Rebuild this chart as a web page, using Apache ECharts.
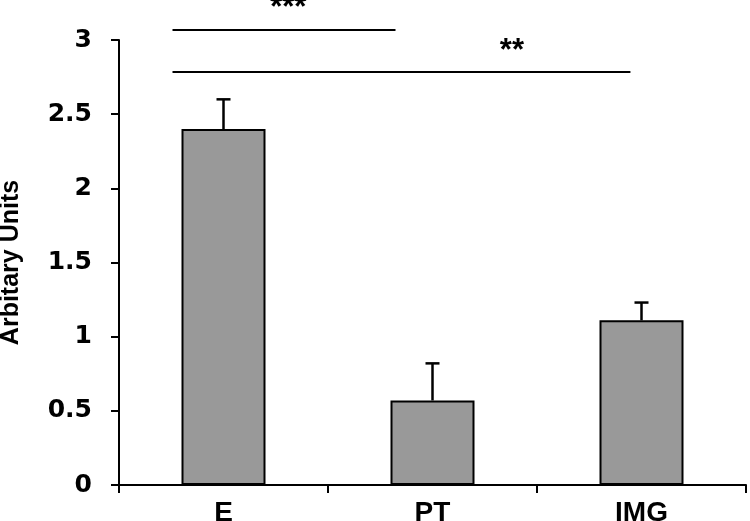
<!DOCTYPE html>
<html>
<head>
<meta charset="utf-8">
<script src="https://cdn.jsdelivr.net/npm/echarts@6/dist/echarts.min.js"></script>
<style>html,body{margin:0;padding:0;background:#fff;}#chart{width:750px;height:521px;}</style>
</head>
<body>
<div id="chart"></div>
<script>
// ---- data ----
const categories = ['E', 'PT', 'IMG'];
const values = [2.4, 0.57, 1.11];
const errors = [0.2, 0.25, 0.12];
const yAxisName = 'Arbitary Units';
// significance brackets (category-space start/end, value level, label, label anchor)
const sigLabels = ['***', '**'];
const sigStart = [-0.244, -0.244];
const sigEnd = [0.823, 1.947];
const sigLevel = [3.067, 2.784];
const sigLabelPos = [0.31, 1.38];
const sigLabelLevel = [3.215, 2.92];

const chart = echarts.init(document.getElementById('chart'));
const errData = categories.map((c, i) => [i, values[i], errors[i]]);
const sigData = sigLabels.map((l, i) => [0, sigLevel[i], i]);

chart.setOption({
  animation: false,
  grid: { left: 119, right: 4, top: 40, bottom: 36, outerBoundsMode: 'none', containLabel: false },
  xAxis: {
    type: 'category',
    data: categories,
    axisLine: { lineStyle: { color: '#000', width: 2 } },
    axisTick: { show: true, length: 8, lineStyle: { color: '#000', width: 2 } },
    axisLabel: { color: '#000', fontFamily: 'Liberation Sans', fontWeight: 'bold', fontSize: 28, margin: 14, lineHeight: 28 }
  },
  yAxis: {
    type: 'value', min: 0, max: 3, interval: 0.5,
    name: yAxisName, nameLocation: 'middle', nameGap: 95, nameRotate: 90,
    nameTextStyle: { color: '#000', fontFamily: 'Liberation Sans', fontWeight: 'bold', fontSize: 25 },
    axisLine: { show: true, lineStyle: { color: '#000', width: 2 } },
    axisTick: { show: true, length: 8, lineStyle: { color: '#000', width: 2 } },
    splitLine: { show: false },
    axisLabel: { color: '#000', fontFamily: 'DejaVu Sans', fontWeight: 'bold', fontSize: 25, margin: 27 }
  },
  series: [
    {
      type: 'bar', data: values, barWidth: 84, z: 2,
      itemStyle: { color: '#999999', borderColor: '#000', borderWidth: 2 }
    },
    {
      type: 'custom', data: errData, z: 3,
      renderItem: function (params, api) {
        const x = api.value(0), v = api.value(1), e = api.value(2);
        const top = api.coord([x, v + e]);
        const base = api.coord([x, v]);
        return { type: 'group', children: [
          { type: 'line', shape: { x1: top[0], y1: top[1], x2: base[0], y2: base[1] }, style: { stroke: '#000', lineWidth: 2.5 } },
          { type: 'line', shape: { x1: top[0] - 7, y1: top[1], x2: top[0] + 7, y2: top[1] }, style: { stroke: '#000', lineWidth: 2.5 } }
        ] };
      }
    },
    {
      type: 'custom', data: sigData, z: 4, clip: false,
      renderItem: function (params, api) {
        const i = api.value(2);
        const band = api.size([1, 0])[0];
        const c0 = api.coord([0, sigLevel[i]]);
        const lp = api.coord([0, sigLabelLevel[i]]);
        return { type: 'group', children: [
          { type: 'line', shape: { x1: c0[0] + sigStart[i] * band, y1: c0[1], x2: c0[0] + sigEnd[i] * band, y2: c0[1] }, style: { stroke: '#000', lineWidth: 2 } },
          { type: 'text', style: { text: sigLabels[i], x: c0[0] + sigLabelPos[i] * band, y: lp[1], align: 'center', verticalAlign: 'middle', fill: '#000', font: 'bold 31px "Liberation Sans"' } }
        ] };
      }
    }
  ]
});
</script>
</body>
</html>
